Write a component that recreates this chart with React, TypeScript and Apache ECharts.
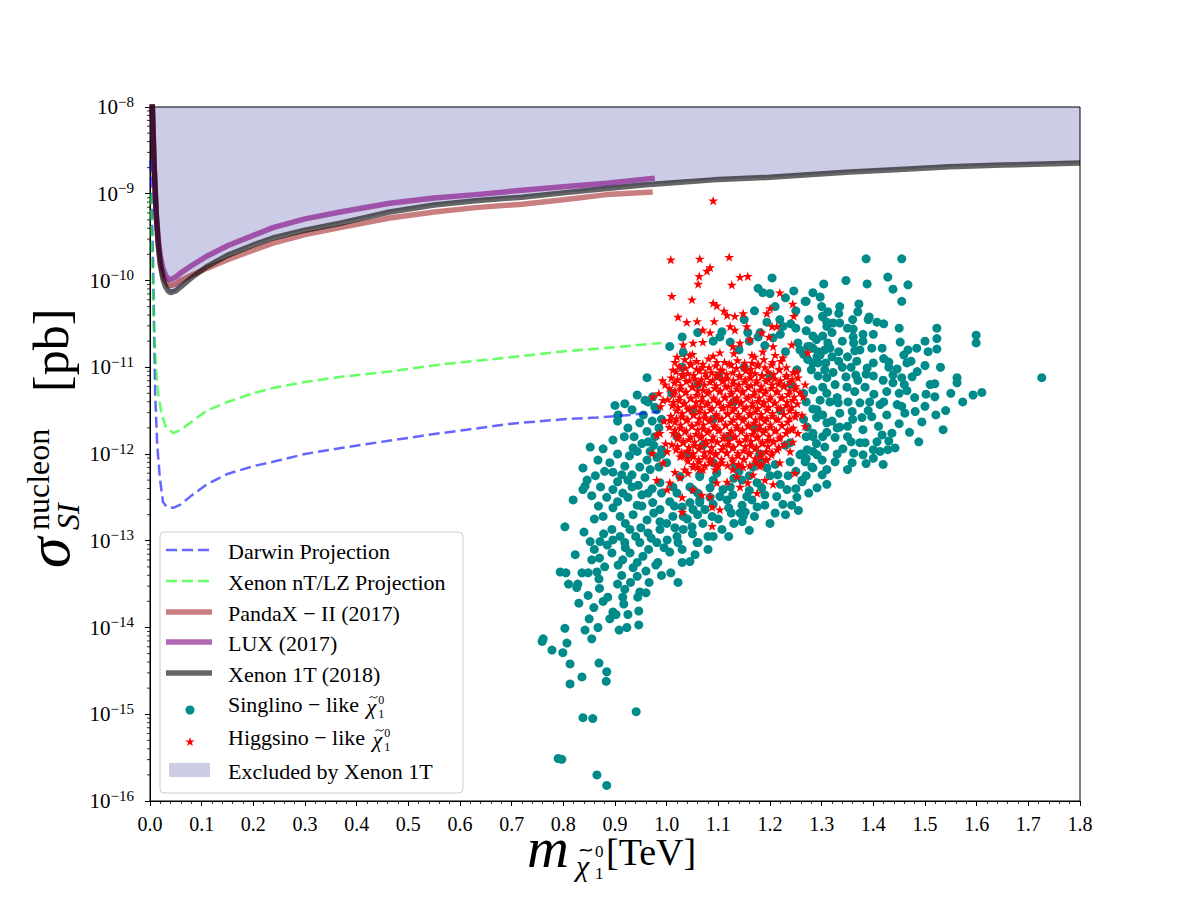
import React, { useEffect, useRef } from "react";
import * as echarts from "echarts";

// ---------- DATA (x in TeV, second value = log10 of sigma in pb) ----------
const X_MIN = 0;
const X_MAX = 1.8;
const Y_DECADES = [-16, -15, -14, -13, -12, -11, -10, -9, -8];
const MINOR_MULTS = [2, 3, 4, 5, 6, 7, 8, 9];

const DARWIN: number[][] = [
  [0.001, -8.62], [0.004, -9.3], [0.006, -9.8], [0.008, -10.6], [0.01, -11.3], [0.014, -11.9],
  [0.019, -12.27], [0.025, -12.55], [0.032, -12.61], [0.045, -12.62], [0.06, -12.58], [0.08, -12.48],
  [0.11, -12.35], [0.15, -12.23], [0.2, -12.14], [0.238, -12.09], [0.3, -12.0], [0.37, -11.93],
  [0.47, -11.84], [0.55, -11.77], [0.613, -11.72], [0.7, -11.65], [0.8, -11.6], [0.865, -11.58],
  [0.93, -11.55], [0.985, -11.51],
];

const XENON_NT: number[][] = [
  [0.001, -9.0], [0.004, -9.7], [0.007, -10.4], [0.01, -10.85], [0.013, -11.12], [0.017, -11.35],
  [0.023, -11.55], [0.03, -11.68], [0.045, -11.76], [0.06, -11.72], [0.08, -11.63], [0.11, -11.5],
  [0.15, -11.4], [0.2, -11.3], [0.238, -11.24], [0.3, -11.17], [0.37, -11.11], [0.464, -11.05],
  [0.56, -10.97], [0.658, -10.91], [0.72, -10.87], [0.794, -10.82], [0.9, -10.77], [0.99, -10.72],
];

const PANDAX: number[][] = [
  [0.004, -7.9], [0.008, -8.7], [0.012, -9.25], [0.016, -9.58], [0.02, -9.8], [0.025, -9.94],
  [0.03, -10.01], [0.035, -10.05], [0.04, -10.06], [0.05, -10.04], [0.06, -10.0], [0.08, -9.94],
  [0.11, -9.86], [0.15, -9.76], [0.2, -9.65], [0.238, -9.57], [0.3, -9.47], [0.368, -9.39],
  [0.464, -9.28], [0.55, -9.21], [0.63, -9.16], [0.72, -9.12], [0.8, -9.07], [0.884, -9.01],
  [0.973, -8.98],
];

const LUX: number[][] = [
  [0.004, -7.9], [0.008, -8.65], [0.012, -9.2], [0.016, -9.52], [0.02, -9.72], [0.025, -9.86],
  [0.03, -9.94], [0.035, -9.98], [0.04, -9.99], [0.05, -9.96], [0.06, -9.91], [0.08, -9.83],
  [0.11, -9.72], [0.15, -9.6], [0.2, -9.48], [0.238, -9.39], [0.3, -9.29], [0.368, -9.21],
  [0.464, -9.11], [0.55, -9.05], [0.63, -9.01], [0.72, -8.96], [0.8, -8.92], [0.884, -8.88],
  [0.977, -8.82],
];

const XENON_1T: number[][] = [
  [0.004, -7.9], [0.008, -8.7], [0.012, -9.25], [0.016, -9.6], [0.02, -9.82], [0.025, -9.98],
  [0.03, -10.07], [0.035, -10.12], [0.04, -10.14], [0.05, -10.12], [0.06, -10.07], [0.08, -9.97],
  [0.11, -9.84], [0.15, -9.71], [0.2, -9.59], [0.238, -9.51], [0.3, -9.42], [0.368, -9.34],
  [0.42, -9.27], [0.464, -9.21], [0.55, -9.13], [0.63, -9.08], [0.72, -9.04], [0.8, -8.99],
  [0.884, -8.94], [0.955, -8.9], [1.0, -8.88], [1.09, -8.84], [1.2, -8.81], [1.355, -8.75],
  [1.45, -8.72], [1.548, -8.69], [1.65, -8.67], [1.8, -8.645],
];

const SINGLINO: number[][] = [
  [0.794, -13.36], [0.805, -13.37], [0.828, -13.5], [0.826, -13.54], [0.836, -13.37], [0.848, -13.37],
  [0.865, -13.36], [0.869, -13.44], [0.848, -13.63], [0.859, -13.77], [0.877, -13.7], [0.886, -13.65],
  [0.896, -13.82], [0.902, -13.85], [0.913, -13.4], [0.919, -13.56], [0.917, -13.73], [0.915, -13.65],
  [0.935, -13.31], [0.943, -13.41], [0.948, -13.59], [0.944, -13.65], [0.946, -13.81], [0.966, -13.48],
  [0.979, -13.28], [1.008, -13.37], [1.022, -13.48], [1.045, -13.24], [0.803, -14.01], [0.761, -14.13],
  [0.759, -14.16], [0.778, -14.26], [0.807, -14.18], [0.799, -14.29], [0.842, -14.03], [0.855, -14.13],
  [0.867, -14.0], [0.908, -14.03], [0.923, -14.0], [0.946, -13.97], [0.813, -14.42], [0.836, -14.57],
  [0.813, -14.65], [0.869, -14.41], [0.884, -14.51], [0.883, -14.62], [0.838, -15.04], [0.857, -15.05],
  [0.941, -14.97], [0.79, -15.51], [0.797, -15.52], [0.865, -15.7], [0.884, -15.82],
  [0.803, -12.84], [0.819, -12.53], [0.838, -12.41],
  [0.943, -11.32], [0.919, -11.42], [0.9, -11.44], [0.906, -11.55], [0.933, -11.49], [0.948, -11.64],
  [0.964, -11.4], [0.977, -11.46], [0.962, -11.74], [0.964, -11.86], [0.896, -11.84], [0.852, -11.92],
  [0.877, -11.94], [0.935, -11.93], [0.943, -11.97], [0.968, -11.97], [0.867, -12.07], [0.89, -12.1],
  [0.919, -12.14], [0.838, -12.16], [0.962, -12.07], [0.981, -12.04], [0.896, -12.21], [0.913, -12.24],
  [0.846, -12.3], [0.933, -12.24], [0.958, -12.27], [0.842, -12.37], [0.896, -12.41], [0.933, -12.38],
  [0.952, -12.47], [0.855, -12.48], [0.884, -12.5], [0.925, -12.5], [0.964, -12.45], [0.943, -12.59],
  [0.973, -12.56], [0.987, -12.64], [1.006, -12.55], [1.03, -12.61], [1.051, -12.64], [1.064, -12.56],
  [0.896, -12.62], [0.877, -12.72], [0.91, -12.72], [0.935, -12.7], [0.962, -12.76], [0.987, -12.78],
  [1.012, -12.72], [1.049, -12.84], [1.088, -12.72], [1.107, -12.87], [1.146, -12.78], [1.152, -12.67],
  [1.165, -12.53], [0.894, -12.87], [0.929, -12.87], [0.964, -12.91], [0.987, -12.87], [1.016, -12.85],
  [0.852, -13.01], [0.871, -13.01], [0.896, -12.99], [0.919, -13.02], [0.948, -13.02], [0.981, -13.02],
  [1.001, -12.99], [1.022, -13.02], [1.059, -13.02], [0.823, -13.16], [0.855, -13.22], [0.894, -13.14],
  [0.929, -13.14], [0.954, -13.18], [1.006, -13.13], [1.055, -13.16], [0.983, -13.25], [0.943, -13.25],
  [0.906, -13.28], [1.084, -12.5], [1.128, -12.47], [1.109, -12.41], [1.084, -12.39], [1.051, -12.41],
  [1.012, -12.38], [0.987, -12.33], [1.026, -12.26], [1.064, -12.26], [1.146, -12.3], [1.175, -12.33],
  [1.142, -12.68], [1.175, -12.61],
  [1.31, -11.64], [1.33, -11.7], [1.283, -11.76], [1.306, -11.92], [1.326, -12.09], [1.283, -11.97],
  [1.281, -12.15], [1.301, -12.24], [1.258, -12.01], [1.239, -12.09], [1.262, -12.32], [1.291, -12.39],
  [1.233, -12.41], [1.252, -12.5], [1.242, -12.59], [1.213, -12.49], [1.19, -12.59], [1.21, -12.68],
  [1.146, -12.59], [1.148, -12.72], [1.09, -12.95], [1.08, -12.95], [1.061, -13.02], [1.032, -12.87],
  [1.167, -12.15], [1.194, -12.16], [1.117, -12.53], [1.064, -12.53], [1.045, -12.56], [1.155, -12.49],
  [1.184, -12.39], [1.215, -12.24], [1.181, -12.1], [1.132, -12.15], [1.097, -12.22], [1.064, -12.24],
  [1.045, -12.38], [1.032, -12.72], [1.123, -12.38], [1.103, -12.49], [1.074, -12.64],
  [1.386, -9.75], [1.455, -9.75], [1.304, -10.04], [1.347, -10.0], [1.388, -10.04], [1.428, -9.96],
  [1.438, -10.1], [1.467, -10.05], [1.455, -10.24], [1.246, -10.12], [1.283, -10.14], [1.297, -10.19],
  [1.27, -10.24], [1.372, -10.27], [1.37, -10.36], [1.312, -10.36], [1.333, -10.38], [1.302, -10.41],
  [1.31, -10.48], [1.322, -10.49], [1.335, -10.49], [1.392, -10.42], [1.39, -10.45], [1.407, -10.48],
  [1.31, -10.53], [1.361, -10.56], [1.38, -10.62], [1.523, -10.55], [1.523, -10.67], [1.599, -10.63],
  [1.599, -10.72], [1.283, -10.64], [1.302, -10.64], [1.361, -10.65], [1.362, -10.72], [1.312, -10.72],
  [1.452, -10.71], [1.484, -10.78], [1.467, -10.8], [1.506, -10.82], [1.523, -10.79], [1.459, -10.86],
  [1.417, -10.78], [1.397, -10.78], [1.374, -10.8], [1.364, -10.81], [1.306, -10.8], [1.316, -10.78],
  [1.333, -10.82], [1.297, -10.86], [1.283, -10.78], [1.273, -10.76], [1.258, -10.8], [1.473, -10.93],
  [1.43, -10.94], [1.368, -10.93], [1.333, -10.93], [1.308, -10.95], [1.283, -10.95], [1.5, -10.98],
  [1.446, -11.02], [1.388, -11.01], [1.357, -11.0], [1.322, -11.06], [1.293, -11.1], [1.438, -11.09],
  [1.455, -11.12], [1.475, -11.11], [1.419, -11.15], [1.386, -11.08], [1.366, -11.09], [1.347, -11.11],
  [1.562, -11.12], [1.562, -11.18], [1.726, -11.12], [1.519, -11.19], [1.438, -11.18], [1.465, -11.27],
  [1.426, -11.28], [1.401, -11.31], [1.384, -11.23], [1.364, -11.28], [1.349, -11.23], [1.326, -11.2],
  [1.302, -11.23], [1.283, -11.26], [1.502, -11.31], [1.519, -11.34], [1.593, -11.32], [1.61, -11.29],
  [1.573, -11.4], [1.446, -11.43], [1.413, -11.43], [1.393, -11.4], [1.374, -11.41], [1.351, -11.4],
  [1.332, -11.41], [1.316, -11.4], [1.297, -11.38], [1.283, -11.48], [1.302, -11.55], [1.335, -11.53],
  [1.359, -11.51], [1.378, -11.58], [1.397, -11.57], [1.426, -11.55], [1.461, -11.53], [1.481, -11.51],
  [1.521, -11.55], [1.494, -11.63], [1.535, -11.72], [1.488, -11.86], [1.436, -11.76], [1.417, -11.78],
  [1.407, -11.86], [1.384, -11.87], [1.357, -11.86], [1.335, -11.69], [1.283, -11.8], [1.302, -11.8],
  [1.326, -11.81], [1.442, -11.93], [1.428, -11.95], [1.413, -11.97], [1.374, -11.87], [1.362, -11.99],
  [1.38, -12.01], [1.341, -11.94], [1.291, -12.01], [1.272, -11.95], [1.268, -12.09], [1.301, -12.07],
  [1.359, -12.1], [1.386, -12.11], [1.419, -12.12], [1.283, -12.16], [1.262, -12.3],
  [1.204, -9.97], [1.177, -10.09], [1.186, -10.14], [1.268, -10.24], [1.006, -10.76], [1.032, -10.83],
  [0.962, -11.12], [1.107, -10.59], [1.103, -10.65], [1.157, -10.6], [1.177, -10.65], [1.194, -10.48],
  [1.219, -10.45], [1.225, -10.53], [1.302, -10.42], [1.254, -10.72], [1.277, -10.76], [1.293, -10.82],
  [1.273, -10.91], [1.293, -10.95], [1.306, -11.03], [1.123, -10.71], [1.206, -10.66], [0.958, -11.38],
  [0.973, -11.34], [1.291, -10.88], [1.252, -11.03], [1.291, -11.49], [1.272, -11.69], [1.239, -11.87],
  [0.981, -11.49], [0.977, -11.8], [1.181, -10.6],
  [1.03, -11.0], [1.06, -11.2], [1.1, -11.1], [1.15, -11.0], [1.2, -11.1], [1.24, -11.2], [1.05, -11.5],
  [1.09, -11.6], [1.13, -11.4], [1.17, -11.7], [1.22, -11.5], [1.02, -11.8], [1.07, -11.9], [1.12, -11.8],
  [1.18, -12.0], [1.23, -11.9], [1.0, -12.1], [1.04, -12.0], [1.09, -12.1], [1.14, -12.2], [1.2, -12.25],
  [1.25, -12.2], [1.01, -11.3], [0.99, -11.6], [0.99, -11.95], [1.27, -11.4], [1.27, -11.8], [1.26, -12.0],
  [0.905, -11.62], [0.925, -11.7], [0.918, -11.8], [0.937, -11.8], [0.955, -11.55], [0.972, -11.62],
  [0.985, -11.7], [0.952, -11.88], [0.975, -11.9], [0.99, -12.0], [0.928, -12.02], [0.948, -12.15],
  [0.968, -12.18], [0.985, -12.15], [0.905, -12.0], [0.88, -12.2], [0.905, -12.32], [0.925, -12.3],
  [0.945, -12.36], [0.972, -12.4], [0.99, -12.45], [0.862, -12.25], [0.872, -12.38], [0.915, -12.45],
  [0.868, -12.6], [0.905, -12.55], [0.952, -12.6], [0.975, -12.68], [0.86, -12.75], [0.92, -12.8],
  [0.95, -12.85], [1.0, -12.8], [0.84, -12.9], [0.878, -12.92], [0.91, -12.95], [0.94, -12.95],
  [0.97, -12.97], [0.86, -13.1], [0.885, -13.05], [0.92, -13.08], [0.965, -13.1], [0.995, -13.08],
  [1.03, -13.1], [0.87, -13.2], [0.915, -13.22], [0.96, -13.35], [0.99, -13.4], [1.03, -13.25],
  [0.88, -13.3], [0.905, -13.5], [0.93, -13.48], [0.96, -13.6], [0.87, -13.55], [0.89, -13.9],
  [0.925, -13.85], [0.83, -13.72], [0.85, -13.9], [0.81, -13.5],
  [1.02, -12.45], [1.06, -12.45], [1.09, -12.58], [1.12, -12.62], [1.16, -12.42], [1.19, -12.47],
  [1.22, -12.35], [1.25, -12.4], [1.27, -12.25], [1.015, -12.6], [1.04, -12.75], [1.07, -12.8],
  [1.1, -12.75], [1.125, -12.68], [1.17, -12.72], [1.2, -12.8], [1.225, -12.58], [1.02, -12.95],
  [1.05, -12.92], [1.12, -12.95], [1.16, -12.88], [1.08, -13.1], [1.13, -12.8], [1.06, -12.7],
  [1.235, -12.25], [1.21, -12.12], [1.13, -12.28], [1.09, -12.3], [1.16, -12.25], [1.255, -12.65],
  [1.275, -12.45], [1.31, -12.35], [1.23, -12.7],
  [1.27, -10.58], [1.29, -10.68], [1.32, -10.6], [1.34, -10.7], [1.35, -10.55], [1.38, -10.7],
  [1.4, -10.62], [1.42, -10.9], [1.4, -10.95], [1.35, -10.88], [1.32, -10.88], [1.265, -10.85],
  [1.28, -11.03], [1.31, -11.12], [1.34, -11.0], [1.37, -11.15], [1.4, -11.1], [1.43, -11.0],
  [1.46, -11.2], [1.48, -11.35], [1.45, -11.3], [1.42, -11.4], [1.39, -11.5], [1.36, -11.6],
  [1.33, -11.35], [1.31, -11.3], [1.265, -11.3], [1.265, -11.6], [1.29, -11.58], [1.32, -11.62],
  [1.35, -11.68], [1.38, -11.72], [1.41, -11.68], [1.45, -11.65], [1.47, -11.75], [1.43, -11.85],
  [1.4, -11.95], [1.35, -11.8], [1.31, -11.75], [1.29, -11.88], [1.33, -12.0], [1.35, -12.18],
  [1.31, -12.18], [1.27, -12.05], [1.4, -12.05], [1.455, -11.45], [1.5, -11.45], [1.51, -11.2],
  [1.485, -11.05], [1.53, -11.0], [1.55, -11.3], [1.54, -11.5], [1.465, -10.95], [1.5, -10.7],
  [1.45, -10.55], [1.42, -10.5], [1.36, -10.45], [1.335, -10.3], [1.3, -10.3], [1.275, -10.45],
  [1.25, -10.55],
  [1.03, -10.65], [1.06, -10.6], [1.09, -10.7], [1.14, -10.8], [1.16, -10.7], [1.19, -10.75],
  [1.22, -10.62], [1.24, -10.5], [1.23, -10.82], [1.15, -10.45], [1.17, -10.35], [1.21, -10.3],
  [1.23, -10.2], [1.2, -10.15], [1.25, -10.35],
];

const HIGGSINO: number[][] = [
  [1.09, -9.08], [1.008, -9.76], [1.064, -9.75], [1.121, -9.73], [1.084, -9.85], [1.078, -9.89],
  [1.063, -9.95], [1.061, -10.04], [1.142, -9.96], [1.157, -9.95], [1.126, -10.05], [1.01, -10.18],
  [1.049, -10.22], [1.09, -10.26], [1.097, -10.29], [1.219, -10.14], [1.244, -10.27], [1.022, -10.42],
  [1.039, -10.48], [1.059, -10.47], [1.092, -10.47], [1.111, -10.35], [1.117, -10.4], [1.132, -10.41],
  [1.148, -10.38], [1.194, -10.38], [1.2, -10.32], [1.246, -10.41], [1.07, -10.57], [1.084, -10.6],
  [1.123, -10.53], [1.132, -10.57], [1.155, -10.53], [1.204, -10.53], [1.213, -10.53], [1.032, -10.74],
  [1.051, -10.72], [1.07, -10.71], [1.103, -10.83], [1.128, -10.76], [1.142, -10.72], [1.161, -10.68],
  [1.184, -10.6], [1.198, -10.65], [1.206, -10.76], [1.242, -10.74], [1.273, -10.83], [1.045, -10.86],
  [1.016, -10.94], [1.012, -11.03], [1.165, -10.86], [1.186, -10.82], [1.225, -10.89], [1.252, -11.05],
  [0.997, -11.2], [0.973, -11.34], [0.993, -11.38], [1.006, -11.61], [0.987, -11.76], [1.268, -11.2],
  [1.264, -11.34], [1.262, -11.55], [1.242, -11.72],
  [0.981, -11.78], [0.972, -11.99], [1.001, -11.97], [0.993, -12.1], [1.016, -12.21], [0.981, -12.3],
  [1.001, -12.41], [1.006, -12.33], [1.026, -12.27], [1.041, -12.22], [1.051, -12.41], [1.03, -12.5],
  [1.068, -12.47], [1.084, -12.49], [1.03, -12.67], [1.088, -12.61], [1.103, -12.64], [1.088, -12.83],
  [1.128, -12.18], [1.148, -12.15], [1.167, -12.24], [1.142, -12.38], [1.157, -12.33], [1.175, -12.45],
  [1.097, -12.33], [1.07, -12.18], [1.051, -12.15], [1.084, -12.1],
  [1.268, -11.68], [1.254, -11.76], [1.244, -11.86], [1.239, -11.97], [1.248, -12.22], [1.219, -12.1],
  [1.206, -12.35], [1.19, -12.3], [1.136, -12.26], [1.117, -12.32], [1.094, -12.18], [1.064, -12.18],
  [1.035, -12.18], [1.026, -12.03], [1.051, -12.03],
  [0.992, -11.15], [0.988, -11.45], [0.995, -11.62], [0.985, -11.3], [0.998, -11.88],
  [1.05, -10.85], [1.09, -10.87], [1.13, -10.84], [1.17, -10.88], [1.21, -10.86], [1.02, -10.88],
  [1.06, -12.15], [1.1, -12.14], [1.14, -12.13], [1.18, -12.14],
  [1.035, -10.91], [1.058, -10.93], [1.081, -10.9], [1.112, -10.94], [1.137, -10.92], [1.165, -10.95],
  [1.188, -10.91], [1.221, -10.93],
  [1.046, -10.95], [1.07, -10.96], [1.097, -10.94], [1.125, -10.97], [1.151, -10.95], [1.177, -10.96],
  [1.205, -10.94],
  [1.024, -10.99], [1.047, -10.97], [1.069, -11.0], [1.095, -10.98], [1.121, -10.96], [1.149, -11.0],
  [1.176, -10.98], [1.203, -10.97], [1.232, -11.0],
  [1.036, -11.01], [1.058, -11.02], [1.082, -11.0], [1.108, -11.03], [1.135, -11.01], [1.163, -11.02],
  [1.19, -11.0], [1.218, -11.02],
  [1.018, -11.05], [1.041, -11.07], [1.063, -11.04], [1.087, -11.06], [1.104, -11.03], [1.128, -11.06],
  [1.153, -11.04], [1.171, -11.07], [1.196, -11.05], [1.218, -11.03], [1.245, -11.06],
  [1.03, -11.08], [1.052, -11.09], [1.075, -11.07], [1.096, -11.09], [1.116, -11.08], [1.141, -11.09],
  [1.162, -11.07], [1.184, -11.09], [1.207, -11.08], [1.232, -11.09],
  [1.009, -11.12], [1.032, -11.1], [1.055, -11.13], [1.078, -11.11], [1.099, -11.1], [1.117, -11.13],
  [1.141, -11.11], [1.162, -11.12], [1.185, -11.1], [1.209, -11.13], [1.231, -11.11], [1.254, -11.12],
  [1.021, -11.14], [1.044, -11.15], [1.067, -11.14], [1.089, -11.15], [1.108, -11.13], [1.129, -11.15],
  [1.152, -11.14], [1.174, -11.15], [1.197, -11.14], [1.22, -11.15], [1.243, -11.14],
  [1.015, -11.18], [1.038, -11.16], [1.061, -11.19], [1.084, -11.17], [1.108, -11.16], [1.129, -11.19],
  [1.151, -11.17], [1.174, -11.18], [1.192, -11.16], [1.216, -11.19], [1.239, -11.17],
  [1.027, -11.21], [1.05, -11.22], [1.073, -11.2], [1.096, -11.21], [1.119, -11.22], [1.14, -11.2],
  [1.163, -11.21], [1.183, -11.22], [1.204, -11.2], [1.228, -11.21], [1.25, -11.22],
  [1.005, -11.24], [1.027, -11.25], [1.049, -11.23], [1.071, -11.26], [1.093, -11.24], [1.114, -11.22],
  [1.136, -11.25], [1.158, -11.23], [1.181, -11.26], [1.203, -11.24], [1.226, -11.22], [1.249, -11.25],
  [1.016, -11.27], [1.038, -11.28], [1.06, -11.27], [1.082, -11.28], [1.104, -11.27], [1.125, -11.28],
  [1.147, -11.27], [1.17, -11.28], [1.192, -11.27], [1.215, -11.28], [1.238, -11.27],
  [1.013, -11.31], [1.036, -11.29], [1.058, -11.32], [1.079, -11.3], [1.102, -11.28], [1.125, -11.31],
  [1.147, -11.29], [1.168, -11.32], [1.189, -11.3], [1.212, -11.28], [1.235, -11.31], [1.258, -11.29],
  [1.025, -11.34], [1.047, -11.35], [1.069, -11.34], [1.091, -11.35], [1.114, -11.34], [1.136, -11.35],
  [1.158, -11.34], [1.179, -11.35], [1.201, -11.34], [1.224, -11.35], [1.247, -11.34],
  [1.002, -11.37], [1.024, -11.38], [1.046, -11.36], [1.068, -11.39], [1.091, -11.37], [1.112, -11.35],
  [1.133, -11.38], [1.155, -11.36], [1.177, -11.39], [1.199, -11.37], [1.221, -11.35], [1.244, -11.38],
  [1.013, -11.4], [1.035, -11.41], [1.057, -11.4], [1.08, -11.41], [1.102, -11.4], [1.123, -11.41],
  [1.144, -11.4], [1.166, -11.41], [1.188, -11.4], [1.21, -11.41], [1.233, -11.4],
  [1.011, -11.44], [1.033, -11.42], [1.055, -11.45], [1.077, -11.43], [1.099, -11.41], [1.121, -11.44],
  [1.143, -11.42], [1.165, -11.45], [1.186, -11.43], [1.208, -11.41], [1.231, -11.44], [1.253, -11.42],
  [1.022, -11.46], [1.044, -11.47], [1.066, -11.46], [1.088, -11.47], [1.11, -11.46], [1.132, -11.47],
  [1.154, -11.46], [1.176, -11.47], [1.197, -11.46], [1.22, -11.47], [1.242, -11.46],
  [1.019, -11.5], [1.041, -11.48], [1.063, -11.51], [1.085, -11.49], [1.107, -11.47], [1.128, -11.5],
  [1.15, -11.48], [1.172, -11.51], [1.194, -11.49], [1.216, -11.47], [1.238, -11.5],
  [1.03, -11.53], [1.052, -11.54], [1.074, -11.53], [1.096, -11.54], [1.118, -11.53], [1.139, -11.54],
  [1.161, -11.53], [1.183, -11.54], [1.205, -11.53], [1.227, -11.54], [1.25, -11.53],
  [1.008, -11.56], [1.03, -11.57], [1.052, -11.55], [1.074, -11.58], [1.096, -11.56], [1.118, -11.54],
  [1.139, -11.57], [1.161, -11.55], [1.183, -11.58], [1.205, -11.56], [1.227, -11.54], [1.249, -11.57],
  [1.019, -11.59], [1.041, -11.6], [1.063, -11.59], [1.085, -11.6], [1.107, -11.59], [1.129, -11.6],
  [1.15, -11.59], [1.172, -11.6], [1.194, -11.59], [1.216, -11.6], [1.238, -11.59],
  [1.016, -11.63], [1.038, -11.61], [1.06, -11.64], [1.082, -11.62], [1.103, -11.6], [1.125, -11.63],
  [1.147, -11.61], [1.169, -11.64], [1.19, -11.62], [1.212, -11.6], [1.234, -11.63],
  [1.027, -11.66], [1.049, -11.67], [1.071, -11.66], [1.093, -11.67], [1.114, -11.66], [1.136, -11.67],
  [1.158, -11.66], [1.18, -11.67], [1.201, -11.66], [1.223, -11.67],
  [1.005, -11.69], [1.027, -11.7], [1.049, -11.68], [1.071, -11.71], [1.092, -11.69], [1.114, -11.67],
  [1.136, -11.7], [1.158, -11.68], [1.18, -11.71], [1.201, -11.69], [1.223, -11.67], [1.245, -11.7],
  [1.016, -11.72], [1.038, -11.73], [1.06, -11.72], [1.082, -11.73], [1.103, -11.72], [1.125, -11.73],
  [1.147, -11.72], [1.169, -11.73], [1.191, -11.72], [1.212, -11.73], [1.234, -11.72],
  [1.013, -11.76], [1.035, -11.74], [1.057, -11.77], [1.079, -11.75], [1.1, -11.73], [1.122, -11.76],
  [1.144, -11.74], [1.166, -11.77], [1.187, -11.75], [1.209, -11.73], [1.231, -11.76],
  [1.024, -11.79], [1.046, -11.8], [1.068, -11.79], [1.09, -11.8], [1.111, -11.79], [1.133, -11.8],
  [1.155, -11.79], [1.177, -11.8], [1.198, -11.79], [1.22, -11.8],
  [1.021, -11.82], [1.043, -11.83], [1.065, -11.81], [1.087, -11.84], [1.109, -11.82], [1.13, -11.8],
  [1.152, -11.83], [1.174, -11.81], [1.196, -11.84], [1.218, -11.82],
  [1.032, -11.85], [1.054, -11.86], [1.076, -11.85], [1.098, -11.86], [1.12, -11.85], [1.141, -11.86],
  [1.163, -11.85], [1.185, -11.86], [1.207, -11.85],
  [1.01, -11.89], [1.032, -11.87], [1.054, -11.9], [1.076, -11.88], [1.098, -11.86], [1.119, -11.89],
  [1.141, -11.87], [1.163, -11.9], [1.185, -11.88], [1.206, -11.86], [1.228, -11.89],
  [1.021, -11.91], [1.043, -11.92], [1.065, -11.91], [1.087, -11.92], [1.109, -11.91], [1.13, -11.92],
  [1.152, -11.91], [1.174, -11.92], [1.196, -11.91], [1.217, -11.92],
  [1.018, -11.95], [1.04, -11.96], [1.062, -11.94], [1.084, -11.97], [1.106, -11.95], [1.127, -11.93],
  [1.149, -11.96], [1.171, -11.94], [1.193, -11.97], [1.214, -11.95],
  [1.029, -11.98], [1.051, -11.99], [1.073, -11.98], [1.095, -11.99], [1.117, -11.98], [1.138, -11.99],
  [1.16, -11.98], [1.182, -11.99], [1.204, -11.98],
  [1.029, -12.02], [1.051, -12.0], [1.073, -12.03], [1.095, -12.01], [1.116, -11.99], [1.138, -12.02],
  [1.16, -12.0], [1.182, -12.03], [1.203, -12.01],
  [1.04, -12.05], [1.062, -12.06], [1.084, -12.05], [1.106, -12.06], [1.127, -12.05], [1.149, -12.06],
  [1.171, -12.05], [1.192, -12.06],
  [1.041, -12.08], [1.063, -12.09], [1.085, -12.07], [1.107, -12.1], [1.128, -12.08], [1.15, -12.06],
  [1.172, -12.09], [1.194, -12.07],
  [1.052, -12.12], [1.074, -12.13], [1.096, -12.12], [1.118, -12.13], [1.139, -12.12], [1.161, -12.13],
  [1.183, -12.12],
];

// ---------- STYLE ----------
const FF = "'Liberation Serif', 'Times New Roman', serif";
const TEAL = "#008b8b";
const C_DARWIN = "rgba(0,0,255,0.6)";
const C_NT = "rgba(0,255,0,0.6)";
const C_PANDA = "rgba(165,42,42,0.6)";
const C_LUX = "rgba(128,0,128,0.6)";
const C_X1T = "rgba(0,0,0,0.6)";
const C_FILL = "rgba(0,0,128,0.2)";
const STAR_PTS = [
  [0, -10], [2.234, -3.074], [9.511, -3.09], [3.614, 1.174], [5.878, 8.09], [0, 3.8],
  [-5.878, 8.09], [-3.614, 1.174], [-9.511, -3.09], [-2.234, -3.074],
];
const STAR_PATH =
  "path://" + STAR_PTS.map((p, i) => (i === 0 ? "M" : "L") + p[0] + "," + p[1]).join(" ") + " Z";

const toPts = (arr: number[][]) => arr.map(([x, e]) => [x, Math.pow(10, e)]);

function measure(text: string, size: number, italic = false): number {
  const c = document.createElement("canvas").getContext("2d");
  if (!c) return text.length * size * 0.45;
  c.font = `${italic ? "italic " : ""}${size}px ${FF}`;
  return c.measureText(text).width;
}

function txt(x: number, y: number, text: string, size: number, extra: any = {}, z = 110) {
  return {
    type: "text",
    x,
    y,
    z,
    style: {
      text,
      fontSize: size,
      fontFamily: FF,
      fill: "#000",
      align: "left",
      verticalAlign: "middle",
      textAlign: "left",
      textVerticalAlign: "middle",
      ...extra,
    },
  };
}

function tilde(x: number, y: number, w: number, lw: number) {
  return {
    type: "bezierCurve",
    z: 111,
    shape: {
      x1: x, y1: y + 1,
      cpx1: x + w * 0.35, cpy1: y - 3,
      cpx2: x + w * 0.65, cpy2: y + 4,
      x2: x + w, y2: y - 1,
    },
    style: { stroke: "#000", lineWidth: lw, fill: null },
  };
}

function buildGraphic() {
  const els: any[] = [];
  els.push({
    type: "rect",
    z: 100,
    shape: { x: 160, y: 532, width: 303, height: 261, r: 4 },
    style: { fill: "rgba(255,255,255,0.8)", stroke: "#cccccc", lineWidth: 1 },
  });
  const LS = 22;
  const lineItems = [
    { y: 550, c: C_DARWIN, w: 2.5, dash: [11, 5], t: "Darwin Projection" },
    { y: 581, c: C_NT, w: 2.5, dash: [11, 5], t: "Xenon nT/LZ Projection" },
    { y: 612, c: C_PANDA, w: 5.5, dash: null, t: "PandaX − II (2017)" },
    { y: 642, c: C_LUX, w: 5.5, dash: null, t: "LUX (2017)" },
    { y: 673, c: C_X1T, w: 5.5, dash: null, t: "Xenon 1T (2018)" },
  ];
  lineItems.forEach((it) => {
    els.push({
      type: "line",
      z: 101,
      shape: { x1: 166, y1: it.y, x2: 212, y2: it.y },
      style: { stroke: it.c, lineWidth: it.w, lineDash: it.dash || undefined },
    });
    els.push(txt(228, it.y + 1, it.t, LS, { lineHeight: 22 }));
  });
  els.push({ type: "circle", z: 101, shape: { cx: 190, cy: 710, r: 4.5 }, style: { fill: TEAL } });
  els.push({
    type: "polygon",
    z: 101,
    shape: { points: STAR_PTS.map(([a, b]) => [190 + a * 0.5, 742 + b * 0.5]) },
    style: { fill: "#ff0000" },
  });
  els.push({ type: "rect", z: 101, shape: { x: 169, y: 763, width: 41, height: 14 }, style: { fill: C_FILL } });
  const chiItems = [
    { y: 704, t: "Singlino − like" },
    { y: 737, t: "Higgsino − like" },
  ];
  chiItems.forEach((it) => {
    els.push(txt(228, it.y, it.t, LS, { lineHeight: 22 }));
    const cx = 228 + measure(it.t + " ", LS) + 2;
    els.push(txt(cx, it.y + 2, "χ", LS, { fontStyle: "italic", lineHeight: 18 }));
    els.push(tilde(cx + 3, it.y - 7, 8, 1));
    const sx = cx + measure("χ", LS, true) + 2;
    els.push(txt(sx, it.y - 4, "0", 12, { lineHeight: 11 }));
    els.push(txt(sx, it.y + 10, "1", 12, { lineHeight: 11 }));
  });
  els.push(txt(228, 771, "Excluded by Xenon 1T", LS, { lineHeight: 22 }));

  // x axis title
  els.push(txt(527, 847, "m", 58, { fontStyle: "italic", lineHeight: 20 }));
  els.push(txt(576, 865, "χ", 30, { fontStyle: "italic", lineHeight: 22 }));
  els.push(tilde(580, 850, 12, 1.6));
  els.push(txt(595, 851, "0", 17, { lineHeight: 13 }));
  els.push(txt(595, 873, "1", 17, { lineHeight: 13 }));
  els.push(txt(606, 852, "[TeV]", 38, { lineHeight: 28 }));

  // y axis title (rotated, reading bottom to top)
  els.push({
    type: "group",
    x: 66,
    y: 568,
    rotation: Math.PI / 2,
    z: 110,
    children: [
      txt(0, -18, "σ", 62, { fontStyle: "italic" }),
      txt(38, -28, "nucleon", 32),
      txt(38, 2, "SI", 32, { fontStyle: "italic" }),
      txt(176, -15, "[pb]", 50),
    ],
  });
  return els;
}

function buildOption() {
  const minorValues: number[][] = [];
  Y_DECADES.slice(0, -1).forEach((d) => {
    MINOR_MULTS.forEach((m) => minorValues.push([0, m * Math.pow(10, d)]));
  });

  const lineSeries = (name: string, data: number[][], color: string, width: number, dash: any) => ({
    name,
    type: "line",
    data: toPts(data),
    showSymbol: false,
    symbol: "none",
    z: 5,
    clip: true,
    lineStyle: { color, width, type: dash || "solid" },
    silent: true,
  });

  return {
    animation: false,
    backgroundColor: "#ffffff",
    textStyle: { fontFamily: FF },
    grid: {
      left: 150,
      top: 107,
      width: 930,
      height: 694,
      show: true,
      borderColor: "#000",
      borderWidth: 1,
      backgroundColor: "transparent",
    },
    xAxis: {
      type: "value",
      min: X_MIN,
      max: X_MAX,
      interval: 0.1,
      axisLine: { show: true, onZero: false, lineStyle: { color: "#000", width: 1 } },
      axisTick: { show: true, length: 5, lineStyle: { color: "#000", width: 1 } },
      minorTick: { show: true, splitNumber: 5, length: 3, lineStyle: { color: "#000", width: 0.8 } },
      splitLine: { show: false },
      minorSplitLine: { show: false },
      axisLabel: {
        margin: 15,
        fontSize: 20,
        lineHeight: 16,
        color: "#000",
        fontFamily: FF,
        formatter: (v: number) => v.toFixed(1),
      },
    },
    yAxis: {
      type: "log",
      logBase: 10,
      min: Math.pow(10, Y_DECADES[0]),
      max: Math.pow(10, Y_DECADES[Y_DECADES.length - 1]),
      splitNumber: 8,
      axisLine: { show: true, onZero: false, lineStyle: { color: "#000", width: 1 } },
      axisTick: { show: true, length: 5, lineStyle: { color: "#000", width: 1 } },
      splitLine: { show: false },
      axisLabel: {
        margin: 16,
        fontSize: 21,
        color: "#000",
        fontFamily: FF,
        formatter: (v: number) => {
          const e = Math.round(Math.log10(v));
          return `{b|10}{s|${e < 0 ? "−" : ""}${Math.abs(e)}}`;
        },
        rich: {
          b: { fontSize: 21, fontFamily: FF, color: "#000", lineHeight: 26 },
          s: { fontSize: 15, fontFamily: FF, color: "#000", lineHeight: 15, verticalAlign: "top" },
        },
      },
    },
    series: [
      {
        name: "Excluded by Xenon 1T",
        type: "custom",
        z: 1,
        clip: true,
        silent: true,
        data: [[1, 1e-12]],
        renderItem: (_p: any, api: any) => {
          const pts = XENON_1T.map(([x, e]) => api.coord([x, Math.pow(10, e)]));
          const first = XENON_1T[0];
          const last = XENON_1T[XENON_1T.length - 1];
          const top = Math.pow(10, Y_DECADES[Y_DECADES.length - 1]);
          pts.push(api.coord([last[0], top]));
          pts.push(api.coord([first[0], top]));
          return { type: "polygon", shape: { points: pts }, style: { fill: C_FILL } };
        },
      },
      {
        name: "Singlino − like",
        type: "scatter",
        data: toPts(SINGLINO),
        symbol: "circle",
        symbolSize: 9,
        z: 2,
        silent: true,
        itemStyle: { color: TEAL, opacity: 1 },
      },
      {
        name: "Higgsino − like",
        type: "scatter",
        data: toPts(HIGGSINO),
        symbol: STAR_PATH,
        symbolKeepAspect: true,
        symbolSize: 10,
        z: 3,
        silent: true,
        itemStyle: { color: "#ff0000", opacity: 1 },
      },
      lineSeries("Darwin Projection", DARWIN, C_DARWIN, 2.5, [11, 5]),
      lineSeries("Xenon nT/LZ Projection", XENON_NT, C_NT, 2.5, [11, 5]),
      lineSeries("PandaX − II (2017)", PANDAX, C_PANDA, 5.5, null),
      lineSeries("LUX (2017)", LUX, C_LUX, 5.5, null),
      lineSeries("Xenon 1T (2018)", XENON_1T, C_X1T, 5.5, null),
      {
        name: "minor ticks",
        type: "custom",
        z: 20,
        clip: false,
        silent: true,
        data: minorValues,
        renderItem: (_p: any, api: any) => {
          const p = api.coord([0, api.value(1)]);
          return {
            type: "line",
            shape: { x1: p[0] - 3, y1: p[1], x2: p[0], y2: p[1] },
            style: { stroke: "#000", lineWidth: 0.8 },
          };
        },
      },
    ],
    graphic: buildGraphic(),
  };
}

export default function App() {
  const ref = useRef<HTMLDivElement | null>(null);
  useEffect(() => {
    document.body.style.margin = "0";
    if (!ref.current) return;
    const chart = echarts.init(ref.current, undefined, { renderer: "svg" });
    chart.setOption(buildOption() as any);
    return () => chart.dispose();
  }, []);
  return (
    <div
      ref={ref}
      style={{ position: "absolute", left: 0, top: 0, width: 1200, height: 900, background: "#fff" }}
    />
  );
}
